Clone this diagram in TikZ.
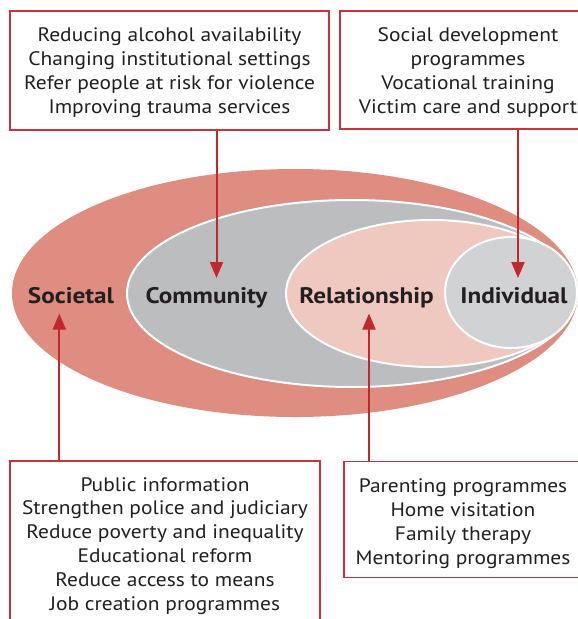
\documentclass[tikz,border=0pt]{standalone}
\usepackage{fontspec}
\setmainfont{PT Sans}[FakeStretch=1.1]
\newfontfamily\lblfont{PT Sans}[FakeStretch=1.12]
\usetikzlibrary{shapes.geometric,arrows.meta}
\definecolor{societal}{HTML}{DE8D80}
\definecolor{community}{HTML}{BCBDBF}
\definecolor{relation}{HTML}{EFC9BF}
\definecolor{indiv}{HTML}{D1D2D4}
\definecolor{boxred}{HTML}{C8323F}
\definecolor{arrred}{HTML}{C1272D}
\definecolor{txt}{HTML}{231F20}
\newcommand\firstgap[1]{\rule{0pt}{#1}}
\begin{document}
\begin{tikzpicture}[x=1pt,y=-1pt,
  infobox/.style={draw=boxred, line width=1.3pt, fill=white, inner sep=0pt,
    align=center, font=\fontsize{19.5}{23.8}\selectfont, text=txt},
  ring/.style={ellipse, draw=white, line width=2pt, inner sep=0pt},
  level/.style={font=\lblfont\fontsize{22.5}{24}\selectfont\bfseries, text=txt, anchor=base, inner sep=0pt},
  link/.style={draw=arrred, line width=2pt, -{Triangle[width=13pt,length=16pt]}}]
\useasboundingbox (0,0) rectangle (578,619);
\clip (0,0) rectangle (578,619);
\fill[white] (0,0) rectangle (578,619);

% ellipses
\node[ring, draw=none, fill=societal, minimum width=566pt, minimum height=248pt] (soc) at (295,293) {};
\node[ring, fill=community, minimum width=450pt, minimum height=187pt] (com) at (352,293.5) {};
\node[ring, fill=relation, minimum width=291pt, minimum height=147pt] (rel) at (431.5,293.5) {};
\node[ring, fill=indiv, minimum width=132pt, minimum height=111pt] (ind) at (511,292.5) {};

% level labels
\node[level] (lsoc) at (71,303.5) {Societal};
\node[level] (lcom) at (206.5,303.5) {Community};
\node[level] (lrel) at (366.5,303.5) {Relationship};
\node[level] (lind) at (514,303.5) {Individual};

% boxes
\node[infobox, minimum width=319pt, minimum height=119pt] (tl) at (169.5,70.5)
  {\firstgap{18.5pt}Reducing alcohol availability\\Changing institutional settings\\Refer people at risk for violence\\Improving trauma services};
\node[infobox, minimum width=256pt, minimum height=118pt] (tr) at (468,70)
  {\firstgap{18.5pt}Social development\\programmes\\Vocational training\\Victim care and support};
\node[infobox, minimum width=310pt, minimum height=167pt] (bl) at (165,544.5)
  {\firstgap{16.5pt}Public information\\Strengthen police and judiciary\\Reduce poverty and inequality\\Educational reform\\Reduce access to means\\Job creation programmes};
\node[infobox, minimum width=238pt, minimum height=116pt] (br) at (463,519.5)
  {\firstgap{22.3pt}Parenting programmes\\Home visitation\\Family therapy\\Mentoring programmes};

% arrow tips
\coordinate (tcom) at (216.5,278);
\coordinate (tind) at (518,278);
\coordinate (tsoc) at (59.3,313.5);
\coordinate (trel) at (369,313.5);

\draw[link] (tl.south -| tcom) -- (tcom);
\draw[link] (tr.south -| tind) -- (tind);
\draw[link] (bl.north -| tsoc) -- (tsoc);
\draw[link] (br.north -| trel) -- (trel);
\end{tikzpicture}
\end{document}
